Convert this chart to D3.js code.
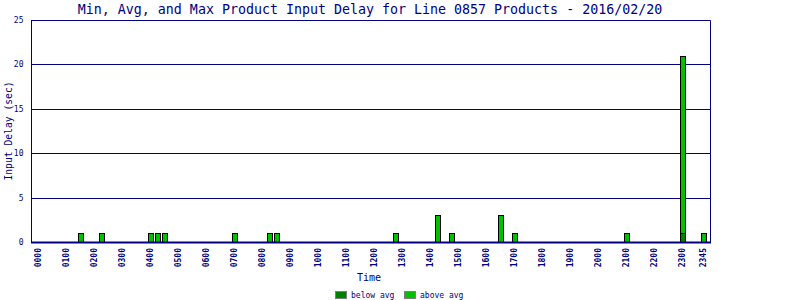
<!DOCTYPE html>
<html><head><meta charset="utf-8">
<script src="https://cdn.jsdelivr.net/npm/d3@7"></script>
<style>body{margin:0;background:#fff}svg{display:block}</style>
</head><body>
<script>
const title = "Min, Avg, and Max Product Input Delay for Line 0857 Products - 2016/02/20";
const tickLabels = ["0000","0100","0200","0300","0400","0500","0600","0700","0800","0900","1000","1100","1200","1300","1400","1500","1600","1700","1800","1900","2000","2100","2200","2300","2345"];
const times =    ["0130","0215","0400","0415","0430","0700","0815","0830","1245","1415","1445","1630","1700","2100","2300","2345"];
const belowAvg = [0,0,0,0,0,0,0,0,0,0,0,0,0,0,1,0];
const aboveAvg = [1,1,1,1,1,1,1,1,1,3,1,3,1,1,20,1];
const yTicks = [0,5,10,15,20,25];
const seriesNames = ["below avg","above avg"];
const seriesColors = ["#008000","#00c000"];

(function(){
// all 15-min slots
const slots = [];
for (let h = 0; h < 24; h++) for (let m = 0; m < 60; m += 15)
  slots.push(String(h).padStart(2,"0") + String(m).padStart(2,"0"));

const W = 800, H = 300;
const navy = "#000080";
const font = "'DejaVu Sans Mono', 'Liberation Mono', monospace";
const svg = d3.select("body").append("svg").attr("width", W).attr("height", H);

const pL = 31, pR = 710, pT = 20, pB = 242;
const x = d3.scaleBand().domain(slots).range([34, 706]).padding(0);
const y = d3.scaleLinear().domain([0, 25]).range([pB, pT]);

svg.append("text").attr("x", 370).attr("y", 14).attr("text-anchor", "middle")
  .attr("fill", navy).style("font-family", font).style("font-size", "13.3px").text(title);

// grid lines
svg.append("g").selectAll("line").data(yTicks.filter(d => d > 0)).join("line")
  .attr("x1", pL).attr("x2", pR).attr("y1", d => Math.round(y(d)) + 0.5).attr("y2", d => Math.round(y(d)) + 0.5)
  .attr("stroke", navy).attr("stroke-width", 1);

// y axis using d3 axis
const yAxis = svg.append("g").attr("transform", `translate(${pL + 0.5},0)`)
  .call(d3.axisLeft(y).tickValues(yTicks).tickSize(0).tickPadding(8));
yAxis.select(".domain").remove();
yAxis.selectAll("text").attr("fill", navy).style("font-family", font).style("font-size", "8px");

// stacked bars
const data = times.map((t, i) => ({t, b: belowAvg[i], a: aboveAvg[i]}));
const bw = 5;
const g = svg.append("g");
data.forEach(d => {
  const cx = x(d.t) + x.bandwidth() / 2 + 0.5;
  if (d.b > 0) g.append("rect").attr("x", Math.round(cx - bw / 2) + 0.5).attr("width", bw)
    .attr("y", Math.round(y(d.b)) + 0.5).attr("height", Math.round(y(0)) - Math.round(y(d.b)))
    .attr("fill", seriesColors[0]).attr("stroke", "#000");
  if (d.a > 0) g.append("rect").attr("x", Math.round(cx - bw / 2) + 0.5).attr("width", bw)
    .attr("y", Math.round(y(d.b + d.a)) + 0.5).attr("height", Math.round(y(d.b)) - Math.round(y(d.b + d.a)))
    .attr("fill", seriesColors[1]).attr("stroke", "#000");
});

// frame
svg.append("path").attr("d", `M${pL + 0.5},${pT + 0.5}H${pR + 0.5}V${pB + 0.5}H${pL + 0.5}Z`)
  .attr("fill", "none").attr("stroke", navy).attr("stroke-width", 1);
svg.append("line").attr("x1", pL).attr("x2", pR + 1).attr("y1", pB + 0.5).attr("y2", pB + 0.5)
  .attr("stroke", navy).attr("stroke-width", 2);

// x tick labels
svg.append("g").selectAll("text").data(tickLabels).join("text")
  .attr("transform", d => `translate(${x(d) + x.bandwidth() / 2 + 3},248) rotate(-90)`)
  .attr("text-anchor", "end").attr("fill", navy)
  .style("font-family", font).style("font-size", "8px").style("font-weight", "bold").text(d => d);

// axis titles
svg.append("text").attr("x", 369).attr("y", 281).attr("text-anchor", "middle").attr("fill", navy)
  .style("font-family", font).style("font-size", "10px").text("Time");
svg.append("text").attr("transform", `translate(12,131) rotate(-90)`).attr("text-anchor", "middle")
  .attr("fill", navy).style("font-family", font).style("font-size", "9.7px").text("Input Delay (sec)");

// legend
const lx = [335, 404];
seriesNames.forEach((n, i) => {
  svg.append("rect").attr("x", lx[i] + 0.5).attr("y", 291.5).attr("width", 11).attr("height", 7)
    .attr("fill", seriesColors[i]).attr("stroke", "#808080");
  svg.append("text").attr("x", lx[i] + 16).attr("y", 298).attr("fill", navy)
    .style("font-family", font).style("font-size", "8px").text(n);
});
})();
</script>
</body></html>
